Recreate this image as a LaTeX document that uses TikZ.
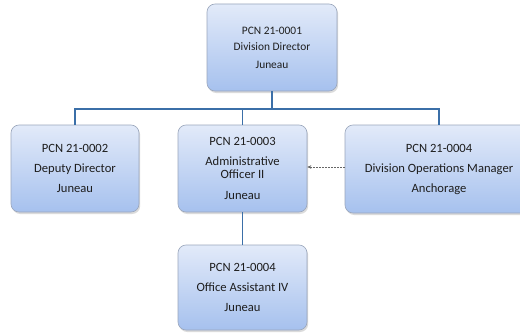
\documentclass[tikz,border=0pt]{standalone}
\usepackage{fontspec}
\setmainfont{Carlito}
\usetikzlibrary{shadows,arrows.meta}
\definecolor{boxtop}{HTML}{E2EAF9}
\definecolor{boxbot}{HTML}{A6C1EE}
\definecolor{boxedge}{HTML}{9AA6BC}
\definecolor{linkcol}{HTML}{3B6FA8}
\definecolor{txtcol}{HTML}{1E1E1E}
\tikzset{
  orgbox/.style={draw=boxedge, line width=0.6pt, rounded corners=8pt,
    top color=boxtop, bottom color=boxbot, align=center,
    font=\fontsize{12.6}{14}\selectfont, text=txtcol, inner sep=2pt,
    drop shadow={opacity=0.28, shadow xshift=1.2pt, shadow yshift=-2pt}},
  conn/.style={draw=linkcol, line width=1.2pt},
  dotlink/.style={draw=gray!80!black, line width=0.5pt, densely dotted,
    -{Stealth[length=4pt,width=3.5pt]}}
}
\begin{document}
\begin{tikzpicture}[x=1pt,y=1pt]
\useasboundingbox (0,0) rectangle (520,333);
\fill[white] (0,0) rectangle (520,333);
\node[orgbox, minimum width=130pt, minimum height=87pt,
  font=\fontsize{11.4}{13}\selectfont] (d1) at (272,285.5)
  {PCN 21-0001\\[3pt]Division Director\\[5pt]Juneau};
\node[orgbox, minimum width=128pt, minimum height=87pt] (d2) at (75,164.5)
  {PCN 21-0002\\[6pt]Deputy Director\\[6pt]Juneau};
\node[orgbox, minimum width=129pt, minimum height=87pt] (d3) at (242.5,164.5)
  {PCN 21-0003\\[6pt]Administrative\\[-1.5pt]Officer II\\[7pt]Juneau};
\node[orgbox, minimum width=188pt, minimum height=88pt] (d4) at (439,164)
  {PCN 21-0004\\[6pt]Division Operations Manager\\[6pt]Anchorage};
\node[orgbox, minimum width=129pt, minimum height=85pt] (d5) at (242.5,45.5)
  {PCN 21-0004\\[6pt]Office Assistant IV\\[6pt]Juneau};
\coordinate (bus) at (0,224);
\draw[conn] (d1.south) -- (d1.south |- bus);
\draw[conn] (d2.north) |- (d4.north |- bus) -- (d4.north);
\draw[conn] (d3.north) -- (d3.north |- bus);
\draw[conn] (d3.south) -- (d5.north);
\draw[dotlink] ([yshift=2pt]d4.west) -- ([yshift=2pt]d4.west -| d3.east);
\end{tikzpicture}
\end{document}
